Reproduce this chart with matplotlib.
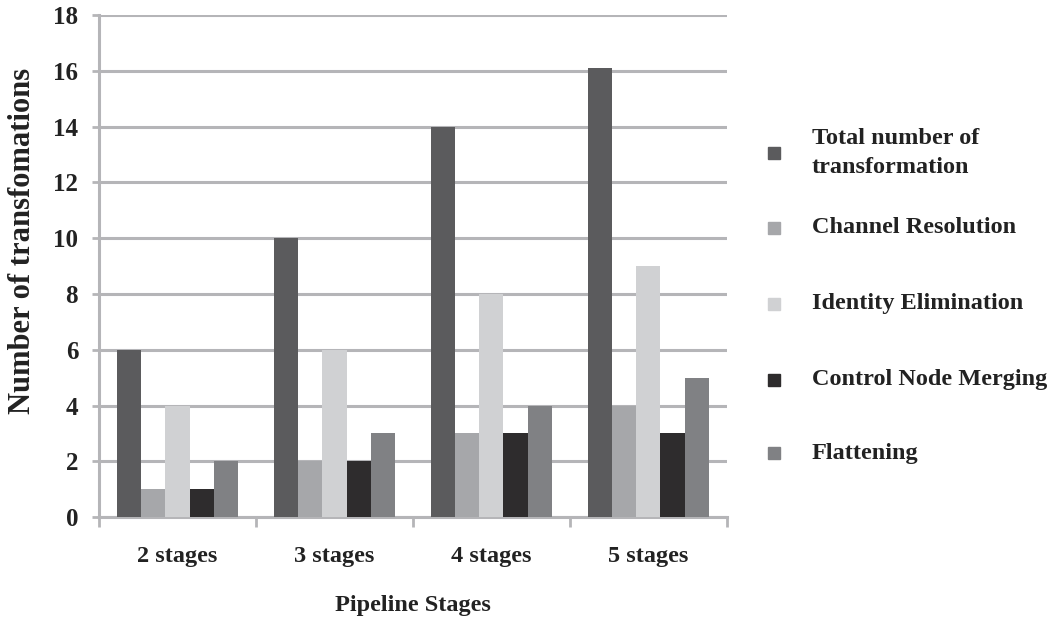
import matplotlib
matplotlib.use("Agg")
import matplotlib.pyplot as plt
import numpy as np
from matplotlib.patches import Rectangle

categories = ["2 stages", "3 stages", "4 stages", "5 stages"]
series_names = ["Total number of\ntransformation", "Channel Resolution",
                "Identity Elimination", "Control Node Merging", "Flattening"]
total = [6, 10, 14, 16.1]
channel = [1, 2, 3, 4]
identity = [4, 6, 8, 9]
control = [1, 2, 3, 3]
flattening = [2, 3, 4, 5]
series_values = [total, channel, identity, control, flattening]
colors = ["#5b5b5d", "#a6a7aa", "#d0d1d3", "#2e2c2d", "#808184"]
yticks = list(range(0, 19, 2))

plt.rcParams['font.family'] = ['Liberation Serif', 'DejaVu Serif']
plt.rcParams['font.weight'] = 'bold'
txt_c = "#222222"

fig = plt.figure(figsize=(10.58, 6.23), dpi=100)
ax = fig.add_axes([0.0936, 0.170, 0.687 - 0.0936, 0.976 - 0.170])

n = len(series_values)
bw = 1 / 6.5
x = np.arange(len(categories))
for i, (vals, c) in enumerate(zip(series_values, colors)):
    ax.bar(x + (i - (n - 1) / 2) * bw, vals, width=bw, color=c, zorder=3, linewidth=0)

grid_c = "#b5b5b8"
ax.set_ylim(0, 18)
ax.set_xlim(-0.5, len(categories) - 0.5)
ax.set_yticks(yticks)
ax.set_yticklabels([str(t) for t in yticks], fontsize=18, fontweight='bold', color=txt_c)
ax.yaxis.grid(True, color=grid_c, linewidth=2.2, zorder=0)
ax.set_axisbelow(True)
for s in ["top", "right"]:
    ax.spines[s].set_visible(False)
for s in ["left", "bottom"]:
    ax.spines[s].set_color(grid_c)
    ax.spines[s].set_linewidth(2.2)
ax.tick_params(axis='y', length=5, width=2, color=grid_c, pad=10)

ax.set_xticks(np.arange(-0.5, len(categories), 1.0))
ax.set_xticklabels([])
ax.tick_params(axis='x', which='major', length=7, width=2, color=grid_c)
ax.set_xticks(x, minor=True)
ax.set_xticklabels(categories, minor=True, fontsize=17.5, fontweight='bold', color=txt_c)
ax.tick_params(axis='x', which='minor', length=0, pad=21)

ax.set_ylabel("Number of transfomations", fontsize=22, fontweight='bold', color=txt_c,
              va='center', ha='center')
ax.yaxis.set_label_coords(-0.1226, 0.549)
ax.set_xlabel("Pipeline Stages", fontsize=17.5, fontweight='bold', color=txt_c, va='center')
ax.xaxis.set_label_coords(0.5, -0.177)

# legend
W, H = 1058, 623
ys = [153, 228, 304, 380, 453]
for name, c, yy in zip(series_names, colors, ys):
    fig.patches.append(Rectangle((768 / W, 1 - (yy + 6) / H), 12 / W, 12 / H,
                                 transform=fig.transFigure, color=c, figure=fig))
    fig.text(812 / W, 1 - yy / H, name, fontsize=17.5, fontweight='bold',
             va='center', ha='left', color=txt_c, linespacing=1.45)

fig.savefig("out.png", dpi=100)
